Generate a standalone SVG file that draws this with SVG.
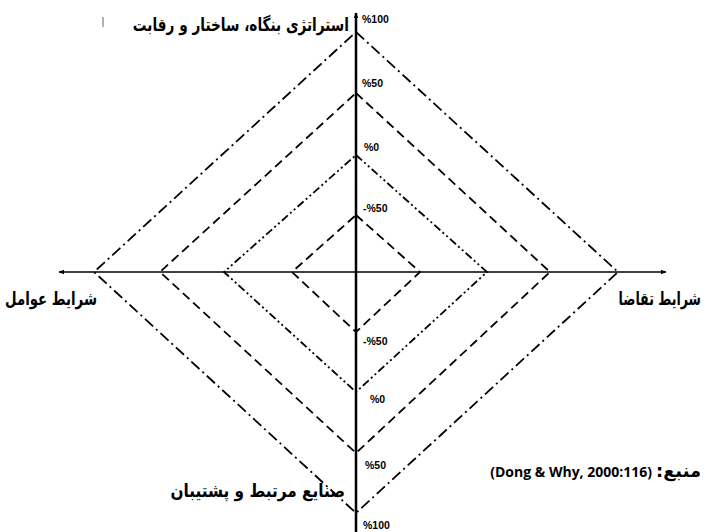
<svg xmlns="http://www.w3.org/2000/svg" width="705" height="532" viewBox="0 0 705 532">
<defs>
<style>
.d{fill:none;stroke:#000;stroke-width:1.8}
.dash{stroke-dasharray:9 5}
.dd{stroke-dasharray:11 4 2 4}
.ddd{stroke-dasharray:8 3 2 3 2 3}
.ax{stroke:#000;fill:none}
.pct{font-family:"Liberation Sans",Arial,sans-serif;font-weight:bold;font-size:10.5px;fill:#000}
.ar{font-family:"DejaVu Sans",sans-serif;font-weight:bold;font-size:18px;fill:#000}
.src{font-family:"Open Sans","Liberation Sans",sans-serif;font-weight:bold;font-size:14px;fill:#000}
</style>
<marker id="ah" viewBox="0 0 10 10" refX="9" refY="5" markerWidth="6" markerHeight="6" orient="auto" markerUnits="userSpaceOnUse"><path d="M0,1 L10,5 L0,9 z" fill="#000"/></marker>
</defs>
<rect width="705" height="532" fill="#fff"/>
<g id="diamonds">
<polygon class="d dd" points="356,32 618,272 356,513 94,272"/>
<polygon class="d dash" points="356,93 550,272 356,453 160,272"/>
<polygon class="d ddd" points="356,155 487,272 356,392 224,272"/>
<polygon class="d dash" points="356,215 420,272 356,332 292,272"/>
</g>
<g id="connectors">
<line class="ax" x1="356" y1="532" x2="356" y2="13" stroke-width="2.5" marker-end="url(#ah)"/>
<line class="ax" x1="356" y1="272" x2="666" y2="272" stroke-width="1.5" marker-end="url(#ah)"/>
<line class="ax" x1="356" y1="272" x2="59" y2="272" stroke-width="1.5" marker-end="url(#ah)"/>
</g>
<g id="scale">
<text class="pct" x="362" y="23">%100</text>
<text class="pct" x="362" y="87">%50</text>
<text class="pct" x="364" y="151">%0</text>
<text class="pct" x="363" y="212">-%50</text>
<text class="pct" x="363" y="345">-%50</text>
<text class="pct" x="370" y="403">%0</text>
<text class="pct" x="365" y="469">%50</text>
<text class="pct" x="363" y="529">%100</text>
</g>
<g id="node-top"><text class="ar" transform="translate(349,31) scale(0.76,1)" text-anchor="end">استراتژی بنگاه، ساختار و رقابت</text></g>
<g id="node-left"><text class="ar" transform="translate(5,305) scale(0.74,1)" text-anchor="start">شرایط عوامل</text></g>
<g id="node-right"><text class="ar" transform="translate(701,305) scale(0.70,1)" text-anchor="end">شرایط تقاضا</text></g>
<g id="node-bottom"><text class="ar" transform="translate(345,497) scale(0.85,1)" text-anchor="end">صنایع مرتبط و پشتیبان</text></g>
<g id="source">
<text class="ar" x="701" y="477" direction="rtl" text-anchor="start" textLength="45" lengthAdjust="spacingAndGlyphs">منبع:</text>
<text class="src" x="652" y="477" text-anchor="end">(Dong &amp; Why, 2000:116)</text>
</g>
<line x1="103" y1="17" x2="103" y2="27" stroke="#999" stroke-width="1.5"/>
</svg>
